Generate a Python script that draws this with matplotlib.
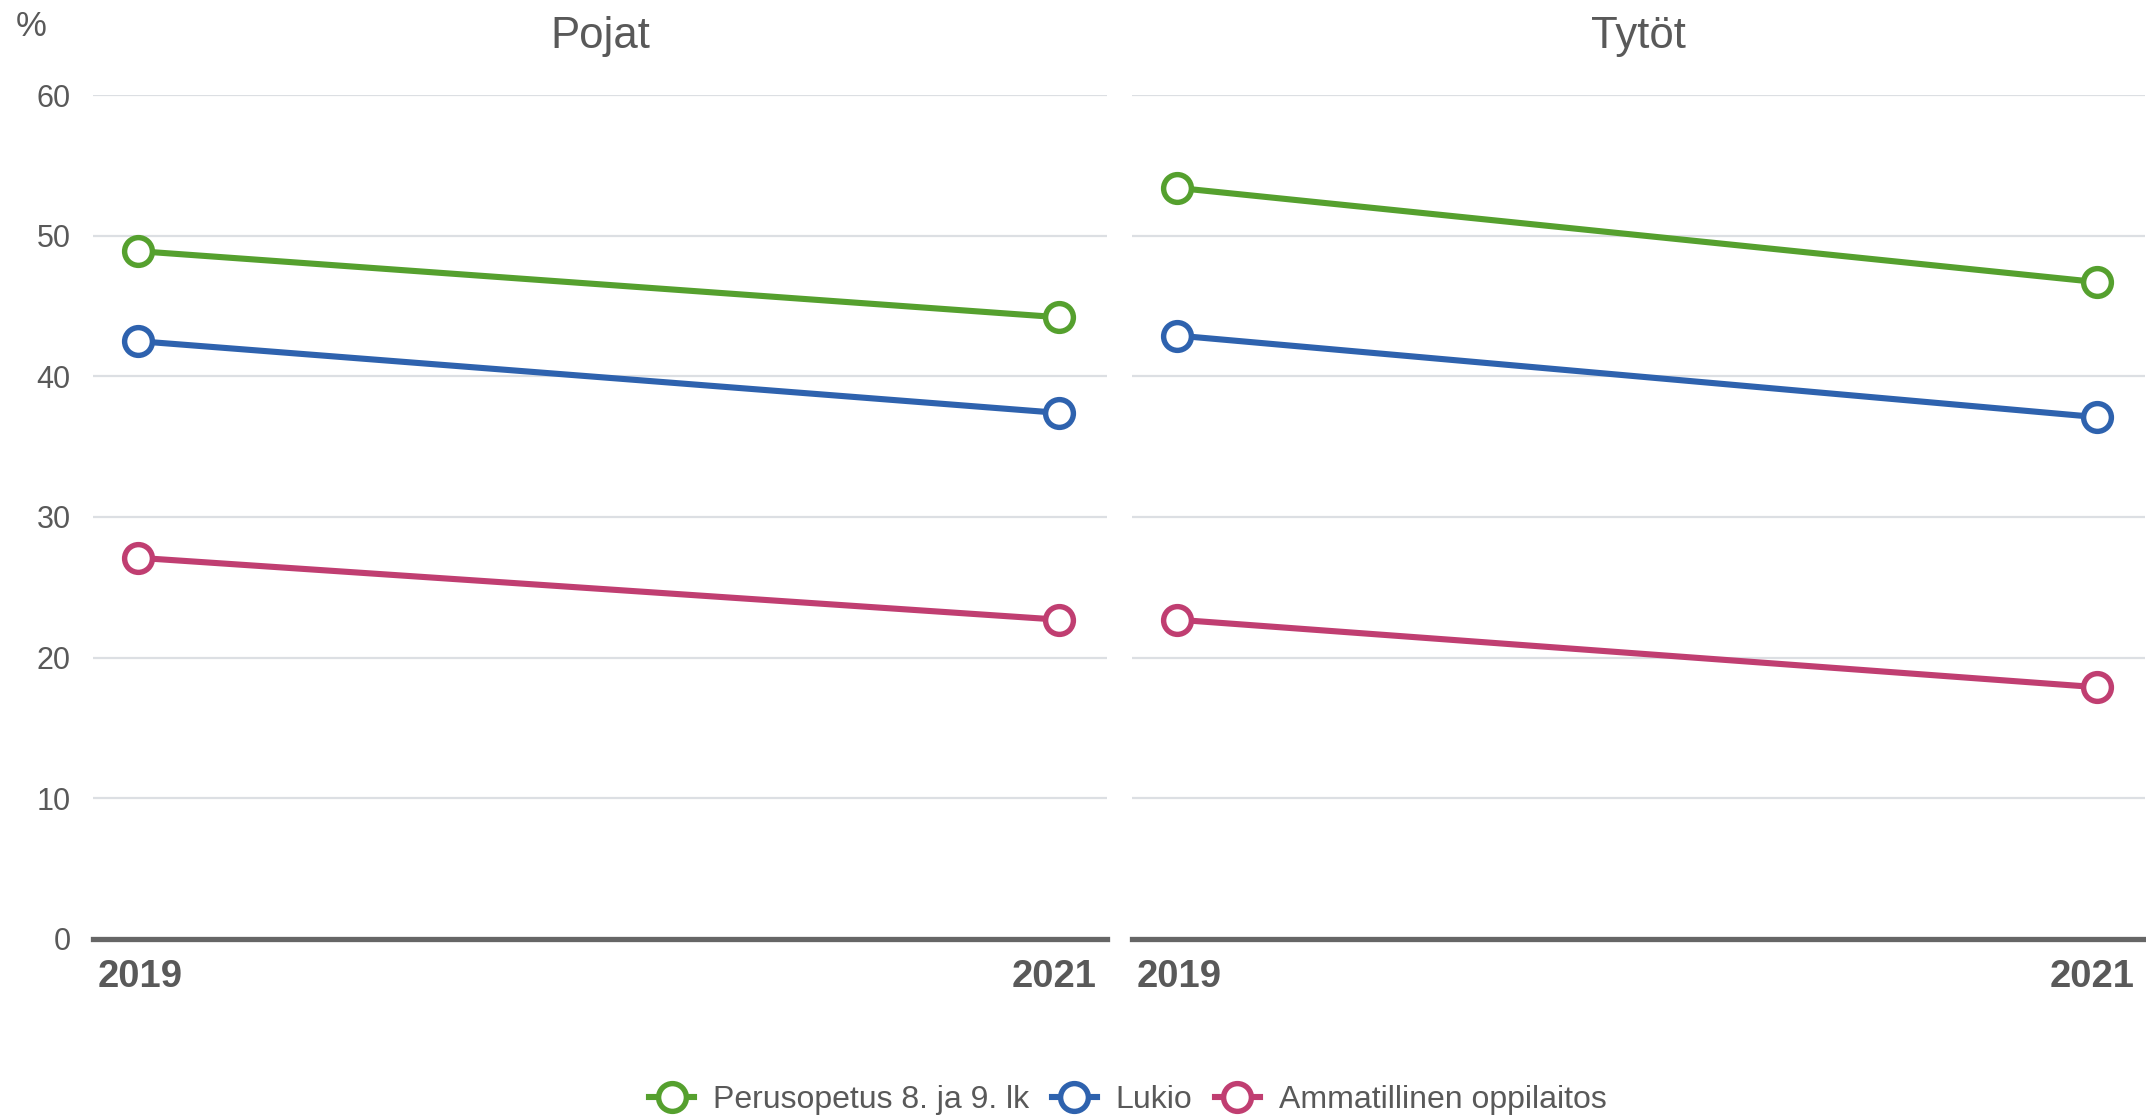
import matplotlib
matplotlib.use("Agg")

import matplotlib.pyplot as plt
from matplotlib.lines import Line2D

plt.rcParams["font.family"] = ["Liberation Sans", "DejaVu Sans"]

# data
years = [2019, 2021]
panels = ["Pojat", "Tytöt"]
series = ["Perusopetus 8. ja 9. lk", "Lukio", "Ammatillinen oppilaitos"]
colors = ["#55a02e", "#2e62ae", "#c03e71"]

pojat = {
    "Perusopetus 8. ja 9. lk": [48.9, 44.2],
    "Lukio": [42.5, 37.4],
    "Ammatillinen oppilaitos": [27.1, 22.7],
}
tytot = {
    "Perusopetus 8. ja 9. lk": [53.4, 46.7],
    "Lukio": [42.9, 37.1],
    "Ammatillinen oppilaitos": [22.7, 17.9],
}
panel_data = [pojat, tytot]
yticks = [0, 10, 20, 30, 40, 50, 60]

text_col = "#595959"
grid_col = "#dcdfe3"

W, H = 2146, 1118
fig = plt.figure(figsize=(W / 100, H / 100), dpi=100)

# panel positions in pixels
px_left = [93, 1132]
px_right = [1107, 2145]
y_top, y_bot = 95, 939

for i, name in enumerate(panels):
    ax = fig.add_axes([px_left[i] / W, 1 - y_bot / H,
                       (px_right[i] - px_left[i]) / W, (y_bot - y_top) / H])
    data = panel_data[i]
    for s, c in zip(series, colors):
        ax.plot(years, data[s], color=c, lw=4.4, marker="o", ms=20,
                mfc="white", mec=c, mew=3.9, clip_on=False, zorder=3)

    ax.set_ylim(0, 60)
    ax.set_xlim(2019 - 45 / 460.5, 2021 + 48 / 460.5)
    ax.set_yticks(yticks)
    ax.set_xticks([])
    ax.grid(axis="y", color=grid_col, lw=1.6)
    ax.set_axisbelow(True)
    for sp in ["top", "right", "left"]:
        ax.spines[sp].set_visible(False)
    ax.spines["bottom"].set_color("#666666")
    ax.spines["bottom"].set_linewidth(3.8)
    ax.spines["bottom"].set_zorder(4)
    ax.tick_params(axis="y", length=0, pad=16, labelsize=22, labelcolor=text_col)
    if i > 0:
        ax.tick_params(axis="y", labelleft=False)

    # year labels at the ends of the axis
    ax.text(0.005, -0.045, str(years[0]), transform=ax.transAxes, ha="left",
            va="center", fontsize=27.5, fontweight="bold", color=text_col)
    ax.text(0.990, -0.045, str(years[-1]), transform=ax.transAxes, ha="right",
            va="center", fontsize=27.5, fontweight="bold", color=text_col)

    cx = (px_left[i] + px_right[i]) / 2 / W
    fig.text(cx, 1 - 48 / H, name, ha="center", va="baseline", fontsize=31.5,
             color=text_col)

fig.text(16 / W, 1 - 27 / H, "%", ha="left", va="center", fontsize=25,
         color=text_col)

handles = [Line2D([0], [0], color=c, lw=4.4, marker="o", ms=20, mfc="white",
                  mec=c, mew=3.9) for c in colors]
fig.legend(handles, series, loc="center", bbox_to_anchor=(1128 / W, 1 - 1100 / H),
           ncol=3, frameon=False, fontsize=23, handlelength=1.4,
           handletextpad=0.6, columnspacing=0.7, labelcolor=text_col)

fig.savefig("out.png", dpi=100)
